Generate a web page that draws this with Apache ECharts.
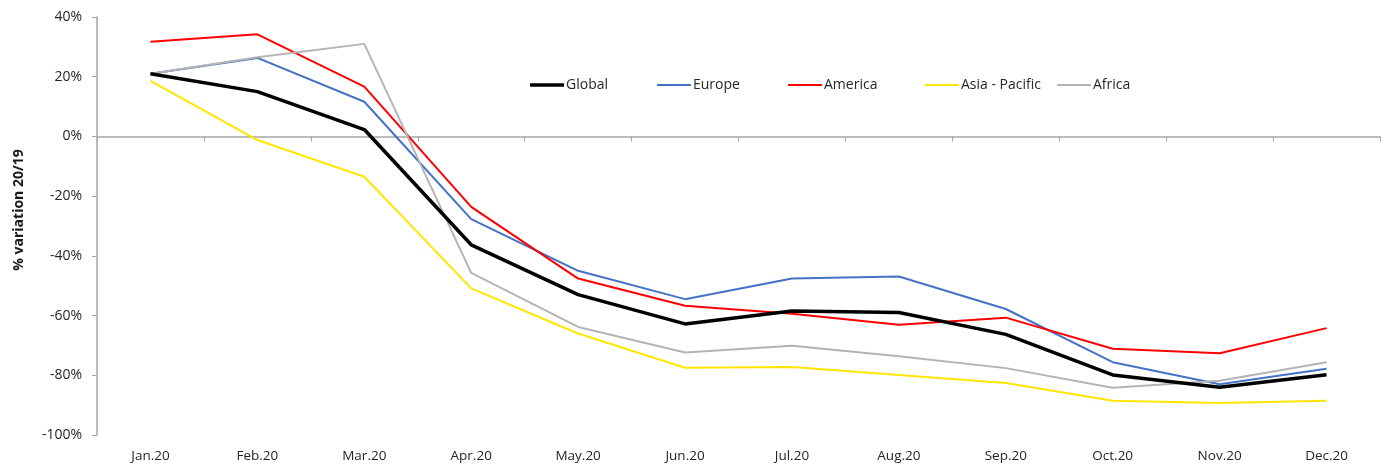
<!DOCTYPE html>
<html>
<head>
<meta charset="utf-8">
<script src="https://cdn.jsdelivr.net/npm/echarts@6/dist/echarts.min.js"></script>
<style>
  html, body { margin: 0; padding: 0; background: #ffffff; }
  #chart { width: 1384px; height: 466px; }
</style>
</head>
<body>
<div id="chart"></div>
<script>
// Monthly traffic change, 2020 vs 2019, by region (%)
var months = ['Jan.20', 'Feb.20', 'Mar.20', 'Apr.20', 'May.20', 'Jun.20',
              'Jul.20', 'Aug.20', 'Sep.20', 'Oct.20', 'Nov.20', 'Dec.20'];

var globalVals  = [21, 15, 2.3, -36.3, -53, -62.8, -58.5, -59, -66.3, -79.9, -84, -79.8];
var europeVals  = [21, 26.3, 11.6, -27.7, -45, -54.5, -47.6, -46.9, -57.8, -75.6, -83, -77.8];
var americaVals = [31.7, 34.2, 16.7, -23.6, -47.6, -56.7, -59.4, -63.1, -60.7, -71.1, -72.6, -64.2];
var asiaVals    = [18.6, -1.2, -13.5, -50.9, -66, -77.5, -77.2, -79.9, -82.6, -88.5, -89.3, -88.5];
var africaVals  = [21, 26.5, 31, -45.7, -63.8, -72.4, -70.1, -73.6, -77.6, -84.2, -81.8, -75.6];

var seriesNames = ['Global', 'Europe', 'America', 'Asia - Pacific', 'Africa'];

var yTicks = { min: -100, max: 40, step: 20 };
var yTitle = '% variation 20/19';

var FONT = '"Open Sans", "Liberation Sans", sans-serif';
var AXIS_GREY = '#a6a6a6';
var TEXT = '#262626';

var styles = {
  'Global':         { color: '#000000', width: 3.5 },
  'Europe':         { color: '#4472c4', width: 2 },
  'America':        { color: '#ff0000', width: 2 },
  'Asia - Pacific': { color: '#ffe600', width: 2 },
  'Africa':         { color: '#b4b4b4', width: 2 }
};

function line(name, data) {
  var s = styles[name];
  return {
    name: name,
    type: 'line',
    data: data,
    xAxisIndex: 0,
    symbol: 'none',
    showSymbol: false,
    lineStyle: { color: s.color, width: s.width },
    itemStyle: { color: s.color },
    z: name === 'Global' ? 3 : 2
  };
}

// one legend entry per item, laid out in fixed-width slots like a spreadsheet legend
var legendLeft = [525, 652, 783, 920, 1052];
var legends = seriesNames.map(function (name, i) {
  return {
    top: 73,
    left: legendLeft[i],
    icon: 'rect',
    itemWidth: 34,
    itemHeight: styles[name].width,
    itemGap: 0,
    selectedMode: false,
    textStyle: { fontFamily: FONT, fontSize: 14, color: TEXT, padding: [0, 0, 0, -3] },
    data: [name]
  };
});

var chart = echarts.init(document.getElementById('chart'), null, { renderer: 'canvas' });

chart.setOption({
  animation: false,
  backgroundColor: '#ffffff',
  grid: { left: 97, right: 4, top: 17, bottom: 31, containLabel: false },
  legend: legends,
  graphic: [{
    type: 'text',
    x: 19,
    y: 210,
    rotation: Math.PI / 2,
    style: {
      text: yTitle,
      fontFamily: FONT,
      fontSize: 14,
      fontWeight: 'bold',
      fill: '#1a1a1a',
      align: 'center',
      verticalAlign: 'middle'
    }
  }],
  xAxis: [
    {
      type: 'category',
      data: months,
      position: 'bottom',
      boundaryGap: true,
      axisLine: { show: false, onZero: false },
      axisTick: { show: false },
      axisLabel: { fontFamily: FONT, fontSize: 13.5, color: TEXT, margin: 14 },
      splitLine: { show: false }
    },
    {
      type: 'category',
      data: months,
      position: 'top',
      boundaryGap: true,
      axisLine: { show: true, onZero: true, lineStyle: { color: AXIS_GREY, width: 1.5 } },
      axisTick: { show: true, inside: true, length: 5, lineStyle: { color: AXIS_GREY } },
      axisLabel: { show: false },
      splitLine: { show: false }
    }
  ],
  yAxis: {
    type: 'value',
    min: yTicks.min,
    max: yTicks.max,
    interval: yTicks.step,
    axisLine: { show: true, lineStyle: { color: AXIS_GREY, width: 1.5 } },
    axisTick: { show: true, length: 5, lineStyle: { color: AXIS_GREY } },
    axisLabel: { fontFamily: FONT, fontSize: 14, color: TEXT, margin: 15,
                 formatter: function (v) { return v + '%'; } },
    splitLine: { show: false }
  },
  series: [
    line('Europe', europeVals),
    line('America', americaVals),
    line('Asia - Pacific', asiaVals),
    line('Africa', africaVals),
    line('Global', globalVals)
  ]
});
</script>
</body>
</html>
